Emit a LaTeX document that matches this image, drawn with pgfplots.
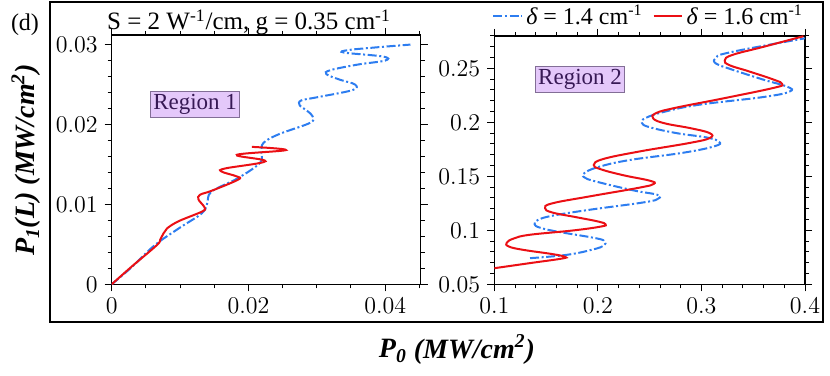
\documentclass[border=0pt]{standalone}
\usepackage{pgfplots}
\pgfplotsset{compat=1.18}
\usepackage{fontspec}
\setmainfont{Liberation Serif}
\definecolor{myblue}{RGB}{45,125,240}
\definecolor{myred}{RGB}{235,15,20}
\definecolor{regfill}{RGB}{228,200,250}
\definecolor{regdraw}{RGB}{130,110,150}
\definecolor{regtext}{RGB}{55,25,85}
\pgfplotsset{
  panel/.style={
    scale only axis, anchor=south west,
    tick align=outside,
    major tick length=3.5pt, minor tick length=2pt,
    tick style={black, line width=0.5pt},
    axis line style={line width=0.6pt},
    tick label style={font=\fontsize{11.5}{12}\selectfont},
    scaled ticks=false,
    xticklabel style={/pgf/number format/fixed, /pgf/number format/precision=3},
    yticklabel style={/pgf/number format/fixed, /pgf/number format/precision=3},
    clip=true,
  },
  bluel/.style={myblue, line width=1pt, dash pattern=on 4.5pt off 1.3pt on 1pt off 1.3pt, smooth, tension=0.7},
  redl/.style={myred, line width=1pt, smooth, tension=0.7},
}
\begin{document}
\begin{tikzpicture}[x=1pt,y=1pt]
\useasboundingbox (0,0) rectangle (415,187.5);
\draw[line width=0.6pt] (25,26.5) rectangle (411.5,186.5);
\node[font=\fontsize{12}{14}\selectfont] at (12.5,175) {(d)};
\node[anchor=base, font=\fontsize{12.5}{14}\selectfont] at (124.5,172.5) {S = 2 W\textsuperscript{-1}/cm, g = 0.35 cm\textsuperscript{-1}};
\node[anchor=base, font=\fontsize{14}{16}\selectfont\bfseries\itshape] at (228.5,8.5) {P\textsubscript{0} (MW/cm\textsuperscript{2})};
\node[rotate=90, font=\fontsize{14}{16}\selectfont\bfseries\itshape] at (13,107.5) {P\textsubscript{1}(L) (MW/cm\textsuperscript{2})};

\begin{axis}[panel,
  at={(55.85pt,45.35pt)}, width=154.5pt, height=124.65pt,
  xmin=0, xmax=0.0452, ymin=0, ymax=0.0312,
  xtick={0,0.02,0.04}, ytick={0,0.01,0.02,0.03},
  minor xtick={0.005,0.01,0.015,0.025,0.03,0.035,0.045},
  minor ytick={0.002,0.004,0.006,0.008,0.012,0.014,0.016,0.018,0.022,0.024,0.026,0.028},
]
\addplot[bluel, tension=0.6] coordinates {
(0,0) (0.0030,0.0022) (0.0063,0.0049) (0.0100,0.0071) (0.0132,0.0089)
(0.0140,0.0102) (0.0146,0.0116) (0.0185,0.0133) (0.0217,0.0152)
(0.0219,0.0165) (0.0222,0.0177) (0.0245,0.0188) (0.0290,0.0202)
(0.0294,0.0210) (0.0286,0.0217) (0.0275,0.0224) (0.0277,0.0230)
(0.0300,0.0234) (0.0352,0.0243) (0.0356,0.0250) (0.0334,0.0256)
(0.0314,0.0263) (0.0320,0.0268) (0.0360,0.0275) (0.0400,0.0280)
(0.0397,0.0285) (0.0340,0.0290) (0.0345,0.0293) (0.0380,0.0296)
(0.0437,0.0300)
};
\addplot[redl, tension=0.6] coordinates {
(0,0) (0.0029,0.0022) (0.0066,0.0049) (0.0071,0.0056) (0.0076,0.0064)
(0.0081,0.0070) (0.0098,0.0079) (0.0132,0.0091) (0.0136,0.0096)
(0.0127,0.0106) (0.0129,0.0112) (0.0146,0.0117) (0.0185,0.0131)
(0.0183,0.0135) (0.0161,0.0141) (0.0166,0.0145) (0.0225,0.0154)
(0.0183,0.0162) (0.0255,0.0168) (0.0205,0.0172)
};
\node[draw=regdraw, fill=regfill, text=regtext, inner xsep=1.2pt, inner ysep=1.5pt, font=\fontsize{11.5}{12}\selectfont] at (axis cs:0.0122,0.02248) {Region 1};
\end{axis}

\begin{axis}[panel,
  at={(247.15pt,45.35pt)}, width=155.35pt, height=124.15pt,
  xmin=0.1, xmax=0.4, ymin=0.05, ymax=0.28,
  xtick={0.1,0.2,0.3,0.4}, ytick={0.05,0.1,0.15,0.2,0.25},
  minor xtick={0.12,0.14,0.16,0.18,0.22,0.24,0.26,0.28,0.32,0.34,0.36,0.38},
  minor ytick={0.06,0.07,0.08,0.09,0.11,0.12,0.13,0.14,0.16,0.17,0.18,0.19,0.21,0.22,0.23,0.24,0.26,0.27,0.28},
  legend style={at={(0.5,1)}, anchor=south, yshift=1pt, draw=none, fill=none,
    legend columns=2, font=\fontsize{12}{14}\selectfont,
    /tikz/every even column/.append style={column sep=3pt},
    inner sep=1pt},
  legend image code/.code={\draw[#1] (0,0) -- (14pt,0);},
]
\addplot[bluel] coordinates {
(0.1345,0.0742) (0.1700,0.0773) (0.1950,0.0822) (0.2060,0.0860) (0.2060,0.0895)
(0.1990,0.0925) (0.1603,0.0989) (0.1440,0.1025) (0.1390,0.1055) (0.1420,0.1095)
(0.1560,0.1135) (0.1925,0.1191) (0.2450,0.1260) (0.2585,0.1295) (0.2570,0.1330)
(0.2343,0.1370) (0.1990,0.1450) (0.1870,0.1490) (0.1870,0.1530)
(0.2000,0.1585) (0.2300,0.1650) (0.2826,0.1719) (0.3130,0.1780) (0.3170,0.1820)
(0.3050,0.1860) (0.2762,0.1900) (0.2500,0.1955) (0.2425,0.1995) (0.2460,0.2040)
(0.2650,0.2100) (0.2990,0.2165) (0.3600,0.2235) (0.3850,0.2285) (0.3830,0.2330)
(0.3600,0.2395) (0.3277,0.2495) (0.3140,0.2545) (0.3140,0.2595) (0.3277,0.2649)
(0.4002,0.2779)
};
\addlegendentry{{\itshape δ} = 1.4 cm\textsuperscript{-1}}
\addplot[redl] coordinates {
(0.1000,0.0649) (0.1350,0.0697) (0.1650,0.0738) (0.1680,0.0755) (0.1560,0.0780)
(0.1280,0.0819) (0.1140,0.0850) (0.1120,0.0885) (0.1190,0.0925) (0.1345,0.0959)
(0.1763,0.0999) (0.2030,0.1035) (0.2075,0.1055) (0.2010,0.1080) (0.1800,0.1120)
(0.1560,0.1165) (0.1490,0.1205) (0.1560,0.1250) (0.1925,0.1315)
(0.2400,0.1395) (0.2540,0.1430) (0.2500,0.1460) (0.2247,0.1510) (0.2030,0.1565)
(0.1960,0.1605) (0.2050,0.1660) (0.2400,0.1730) (0.2890,0.1810) (0.3080,0.1855)
(0.3080,0.1900) (0.2900,0.1945) (0.2650,0.1990) (0.2535,0.2035) (0.2560,0.2085)
(0.2750,0.2135) (0.3200,0.2220) (0.3700,0.2320) (0.3780,0.2355) (0.3700,0.2395)
(0.3450,0.2475) (0.3270,0.2530) (0.3225,0.2575) (0.3300,0.2625)
(0.3600,0.2700) (0.3985,0.2798)
};
\addlegendentry{{\itshape δ} = 1.6 cm\textsuperscript{-1}}
\node[draw=regdraw, fill=regfill, text=regtext, inner xsep=1.2pt, inner ysep=1.5pt, font=\fontsize{11.5}{12}\selectfont] at (axis cs:0.1828,0.24) {Region 2};
\end{axis}
\end{tikzpicture}
\end{document}
